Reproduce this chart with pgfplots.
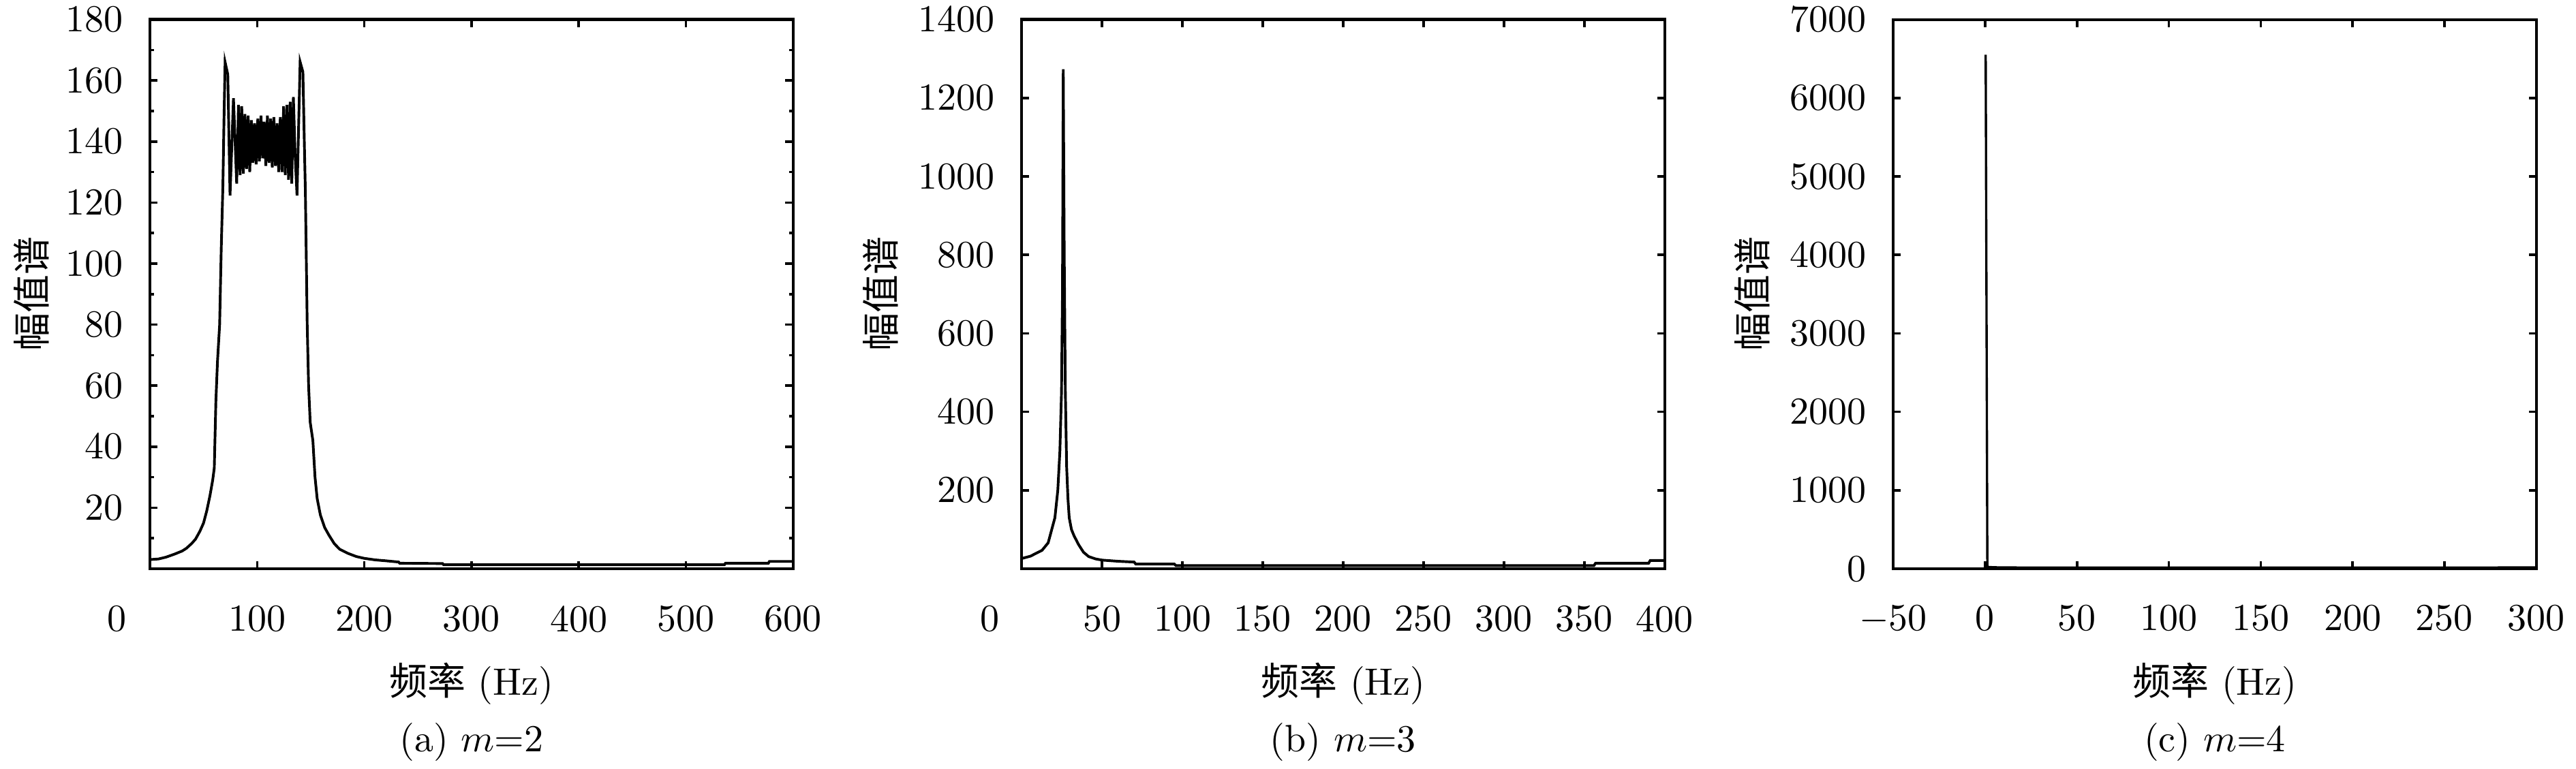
\documentclass[border=0pt]{standalone}
\usepackage{fontspec}
\newfontfamily\cjk{Noto Sans CJK SC}
\usepackage{pgfplots}
\pgfplotsset{compat=1.18}
\pgfplotsset{myax/.style={
  scale only axis, width=168.5pt, height=144pt, anchor=south west,
  clip mode=individual,
  axis line style={line width=0.75pt},
  every tick/.style={black, line width=0.65pt},
  major tick length=2pt, minor tick length=1pt,
  xticklabel style={yshift=-6.2pt},
  yticklabel style={xshift=-3.5pt},
  /pgf/number format/1000 sep={},
  xlabel={{\cjk 频率} (Hz)},
  ylabel={\cjk 幅值谱},
  xlabel style={at={([yshift=-30.2pt]axis description cs:0.5,0)}, anchor=center},
}}
\begin{document}
\begin{tikzpicture}
\useasboundingbox (0,0) rectangle (675pt,201.6pt);
% (a)
\begin{axis}[myax, at={(39.3pt,52.5pt)},
  xmin=0, xmax=600, ymin=0, ymax=180,
  xtick={0,100,...,600},
  xticklabels={\rlap{\hspace*{-11.1pt}0},100,200,300,400,500,600},
  ytick={20,40,...,180}, minor ytick={10,30,...,170},
  ylabel style={at={([xshift=-31pt]axis description cs:0,0.5)}, anchor=center},
]
\addplot[black, line width=0.7pt] coordinates {
(0,3.0)(8,3.2)(15,3.8)(23,4.8)(30,5.8)(34,6.7)(39,8.3)(42.5,9.7)(46.6,12.3)(50,15)(53,19)(56,24)(58.5,29)(60,33)(61.5,55)(63,68)(65,80)(66.5,105)(68,125)(69.2,150)(70.1,166)(72.6,162)(74.7,122.3)(77.9,154.2)(80.9,126.2)(82.6,152)(84.1,129)(85.6,151.6)(87.1,129.5)(88.6,149)(90.1,131)(91.6,148.5)(93.1,130)(94.6,147)(96.1,133)(97.6,146)(99.1,132.5)(100.6,147.5)(102.1,133.5)(103.6,148.5)(105.1,134.5)(106.6,146.5)(108.1,132)(109.6,148.5)(111.1,133)(112.6,147.5)(114.1,131.5)(115.6,148)(117.1,132)(118.6,146)(120.1,130)(121.6,148)(123.2,130)(124.7,151.6)(126.2,129)(127.8,152)(129.3,127.5)(130.8,153)(132.3,126.2)(133.8,154.6)(135.5,135)(137.2,122.3)(140.1,166.1)(142.7,162.8)(144,140)(145,123.5)(146.7,80)(148,60)(149.5,48)(152,42)(154,30)(156,23)(159,17.6)(163,13.5)(167,11)(172,8.2)(177,6.4)(185,5)(192.5,4)(200,3.4)(210,2.9)(220,2.6)(232,2.2)(233,1.8)(273,1.7)(274,1.3)(536,1.3)(537,1.8)(577,1.8)(578,2.4)(600,2.4)
};
\node at ([yshift=-45.5pt]axis description cs:0.5,0) {(a) $m$=2};
\end{axis}
% (b)
\begin{axis}[myax, at={(267.7pt,52.5pt)},
  xmin=0, xmax=400, ymin=0, ymax=1400,
  xtick={0,50,...,400},
  xticklabels={\rlap{\hspace*{-10.9pt}0},50,100,150,200,250,300,350,400},
  ytick={200,400,...,1400},
  ylabel style={at={([xshift=-37pt]axis description cs:0,0.5)}, anchor=center},
]
\addplot[black, line width=0.7pt] coordinates {
(0,26)(5.5,32)(12.7,47)(16.5,66)(20.7,130)(22.5,200)(23.8,300)(24.8,450)(25.4,700)(25.9,1273)(26.5,800)(27.2,450)(28,260)(28.8,180)(29.6,130)(31,100)(32.6,84)(35.5,61)(38.5,42)(41.7,31)(46,25)(50,22)(60,19)(70,17)(71,12)(95,12)(96,8)(356,8)(357,14)(390,14)(391,21)(400,21)
};
\node at ([yshift=-45.5pt]axis description cs:0.5,0) {(b) $m$=3};
\end{axis}
% (c)
\begin{axis}[myax, at={(496.1pt,52.5pt)},
  xmin=-50, xmax=300, ymin=0, ymax=7000,
  xtick={-50,0,...,300},
  ytick={0,1000,...,7000},
  ylabel style={at={([xshift=-37pt]axis description cs:0,0.5)}, anchor=center},
]
\addplot[black, line width=0.6pt] coordinates {
(0.3,6550)(1.2,30)(2,22)(5,18)(20,15)(100,14)(200,14)(300,16)
};
\node at ([yshift=-45.5pt]axis description cs:0.5,0) {(c) $m$=4};
\end{axis}
\end{tikzpicture}
\end{document}
